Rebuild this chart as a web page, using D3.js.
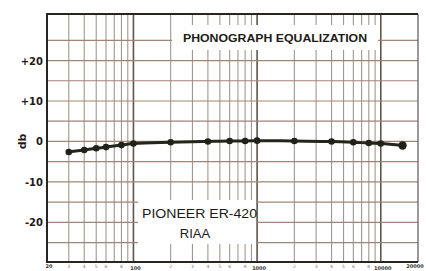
<!DOCTYPE html>
<html>
<head>
<meta charset="utf-8">
<script src="https://cdn.jsdelivr.net/npm/d3@7"></script>
<style>
  html, body { margin: 0; padding: 0; background: #fff; }
  svg { display: block; }
</style>
</head>
<body>
<svg id="chart" width="426" height="271"></svg>
<script>
// phonograph equalization curve, Pioneer ER-420 (RIAA)

const freqs   = [30, 40, 50, 60, 80, 100, 200, 400, 600, 800, 1000, 2000, 4000, 6000, 8000, 10000, 15000];
const dbVals  = [-2.6, -2.1, -1.7, -1.4, -0.9, -0.5, -0.2, 0, 0.1, 0.1, 0.2, 0.1, 0, -0.2, -0.4, -0.5, -1.0];
const yTicks  = [20, 10, 0, -10, -20];
const yTickLabels = ['+20', '+10', '0', '-10', '-20'];
const yGrid   = [25, 20, 15, 10, 5, 0, -5, -10, -15, -20, -25];
const xMajor  = [100, 1000, 10000];
const xLabels = [20, 100, 1000, 10000, 20000];
const minorDigits = [2, 3, 4, 5, 6, 8];

const svg = d3.select('#chart');
const plot = {left: 47, right: 418, top: 14, bottom: 262};

const x = d3.scaleLog().domain([20, 20000]).range([plot.left, plot.right]);
const y = d3.scaleLinear().domain([-29.8, 31.5]).range([plot.bottom, plot.top]);

const grid = svg.append('g');

// vertical grid, one line per x tick of the log scale
grid.selectAll('.vline').data(x.ticks().filter(d => d > 20 && d < 20000))
    .join('line').attr('class', 'vline')
    .attr('x1', d => x(d)).attr('x2', d => x(d))
    .attr('y1', plot.top).attr('y2', plot.bottom)
    .attr('stroke', d => xMajor.includes(d) ? '#5e544c' : '#a3968c')
    .attr('stroke-width', d => xMajor.includes(d) ? 1.6 : 1.1);

// horizontal grid every 5 db
grid.selectAll('.hline').data(yGrid)
    .join('line').attr('class', 'hline')
    .attr('x1', plot.left).attr('x2', plot.right)
    .attr('y1', d => y(d)).attr('y2', d => y(d))
    .attr('stroke', '#a08478').attr('stroke-width', 1.2);

// white patches behind the labels
svg.append('rect').attr('x', 172).attr('y', 25).attr('width', 206).attr('height', 25).attr('fill', '#fff');
svg.append('rect').attr('x', 138).attr('y', 200).attr('width', 118).attr('height', 44).attr('fill', '#fff');

// frame
svg.append('line').attr('x1', plot.right).attr('x2', plot.right).attr('y1', plot.top).attr('y2', plot.bottom)
    .attr('stroke', '#6a625c').attr('stroke-width', 1.3);
svg.append('path')
    .attr('d', `M${plot.right},${plot.top}H${plot.left}V${plot.bottom}H${plot.right}`)
    .attr('fill', 'none').attr('stroke', '#2b2520').attr('stroke-width', 2);

// y labels
svg.selectAll('.ylab').data(yTicks)
    .join('text').attr('class', 'ylab')
    .attr('x', 43).attr('y', d => y(d) + 4)
    .attr('text-anchor', 'end')
    .style('font-family', 'DejaVu Sans').style('font-weight', 'bold').style('font-size', '10px')
    .style('fill', '#1e1a18')
    .text((d, i) => yTickLabels[i]);

svg.append('text')
    .attr('transform', `translate(26,${y(0)}) rotate(-90)`)
    .attr('text-anchor', 'middle')
    .style('font-family', 'DejaVu Sans').style('font-weight', 'bold').style('font-size', '11px')
    .style('fill', '#1e1a18')
    .text('db');

// tiny frequency digits under the frame
const minorTicks = x.ticks().filter(d => {
    const m = d / Math.pow(10, Math.floor(Math.log10(d)));
    return d > 20 && d < 20000 && minorDigits.includes(Math.round(m));
});
svg.selectAll('.xdig').data(minorTicks)
    .join('text').attr('class', 'xdig')
    .attr('x', d => x(d)).attr('y', 268)
    .attr('text-anchor', 'middle')
    .style('font-family', 'DejaVu Sans').style('font-size', '4.5px').style('fill', '#777')
    .text(d => Math.round(d / Math.pow(10, Math.floor(Math.log10(d)))));

svg.selectAll('.xlab').data(xLabels)
    .join('text').attr('class', 'xlab')
    .attr('x', d => d === 20 ? x(d) + 2 : d === 20000 ? x(d) - 3 : x(d) + 2)
    .attr('y', d => (d === 20 || d === 20000) ? 268 : 269.5)
    .attr('text-anchor', 'middle')
    .style('font-family', 'DejaVu Sans').style('font-weight', 'bold').style('font-size', '5px')
    .style('fill', '#333')
    .text(d => d);

// titles
svg.append('text')
    .attr('x', 183).attr('y', 42)
    .attr('textLength', 184).attr('lengthAdjust', 'spacingAndGlyphs')
    .style('font-family', 'Liberation Sans').style('font-weight', 'bold').style('font-size', '11px')
    .style('fill', '#1e1a18')
    .text('PHONOGRAPH  EQUALIZATION');

svg.append('text')
    .attr('x', 142).attr('y', 218)
    .attr('textLength', 115).attr('lengthAdjust', 'spacingAndGlyphs')
    .style('font-family', 'Liberation Sans').style('font-size', '13.5px')
    .style('fill', '#1e1a18')
    .text('PIONEER ER-420');

svg.append('text')
    .attr('x', 195).attr('y', 238)
    .attr('text-anchor', 'middle')
    .style('font-family', 'Liberation Sans').style('font-size', '13px')
    .style('fill', '#1e1a18')
    .text('RIAA');

// response curve
const pts = freqs.map((f, i) => ({f, v: dbVals[i]}));
const line = d3.line().x(d => x(d.f)).y(d => y(d.v)).curve(d3.curveMonotoneX);

svg.append('path').datum(pts)
    .attr('d', line)
    .attr('fill', 'none').attr('stroke', '#23261c').attr('stroke-width', 3)
    .attr('stroke-linecap', 'round');

svg.selectAll('.dot').data(pts)
    .join('circle').attr('class', 'dot')
    .attr('cx', d => x(d.f)).attr('cy', d => y(d.v))
    .attr('r', (d, i) => i === pts.length - 1 ? 4.2 : 3.3)
    .attr('fill', '#1f2219');
</script>
</body>
</html>
